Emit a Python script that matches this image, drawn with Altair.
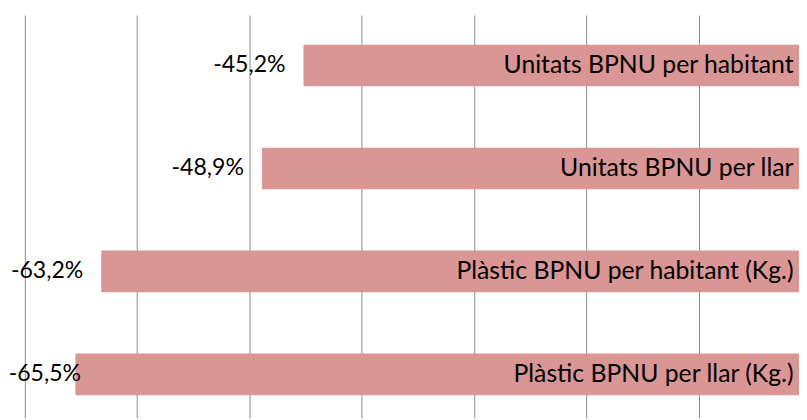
import altair as alt
import pandas as pd

categories = [
    "Unitats BPNU per habitant",
    "Unitats BPNU per llar",
    "Plàstic BPNU per habitant (Kg.)",
    "Plàstic BPNU per llar (Kg.)",
]
values = [-45.2, -48.9, -63.2, -65.5]
value_labels = ["-45,2%", "-48,9%", "-63,2%", "-65,5%"]
grid_ticks = [-70, -60, -50, -40, -30, -20, -10]

df = pd.DataFrame({"cat": categories, "value": values, "label": value_labels})

FONT = "Lato"
FS_CAT = 25
FS_VAL = 23.3

x_scale = alt.Scale(domain=[-70, -1.1], nice=False, zero=False)
y_scale = alt.Scale(domain=categories, paddingInner=0.596, paddingOuter=0.2548, align=0.566)

base = alt.Chart(df)

bars = base.mark_bar(color="#D99694", clip=True).encode(
    x=alt.X(
        "value:Q",
        scale=x_scale,
        axis=alt.Axis(
            values=grid_ticks, grid=True, labels=False, ticks=False, domain=False,
            title=None, gridColor="#8c8c8c", gridWidth=1, zindex=0,
        ),
    ),
    x2=alt.datum(0),
    y=alt.Y(
        "cat:N",
        scale=y_scale,
        sort=categories,
        axis=alt.Axis(
            orient="right", title=None, domain=False, ticks=False, tickSize=0,
            labelAlign="right", labelPadding=-6, labelFont=FONT, labelFontSize=FS_CAT,
            labelColor="#000000", labelLimit=0, zindex=1, grid=False,
        ),
    ),
)

texts = base.mark_text(
    align="right", baseline="middle", font=FONT, fontSize=FS_VAL, color="#000000"
).transform_calculate(
    lx="max(datum.value - 1.6, -65.0)"
).encode(
    x=alt.X("lx:Q", scale=x_scale),
    y=alt.Y("cat:N", scale=y_scale, sort=categories),
    text="label:N",
)

chart = (
    alt.layer(bars, texts)
    .properties(
        width=782,
        height=407,
        padding={"left": 17, "top": 5, "right": 0, "bottom": 0},
        autosize=alt.AutoSizeParams(type="none"),
    )
    .configure_view(stroke=None)
)

chart.save("out.html", embed_options={"renderer": "svg", "actions": False})
